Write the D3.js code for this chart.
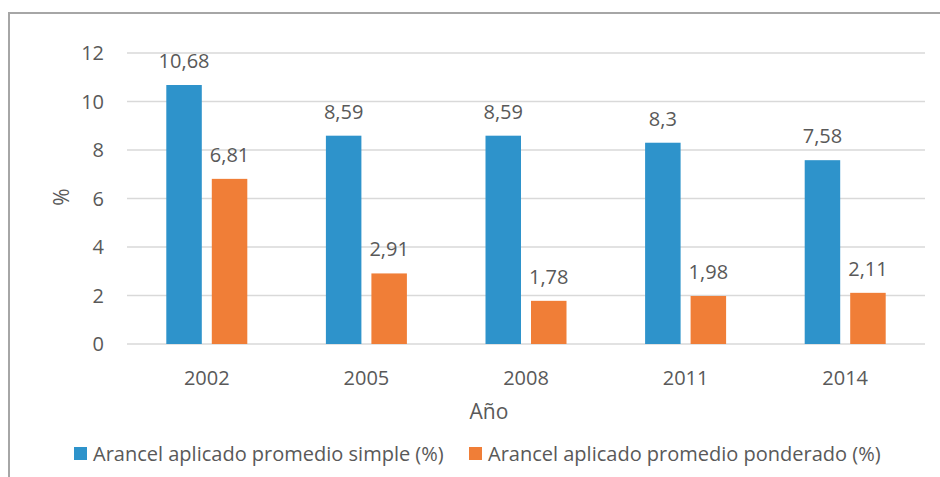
<!DOCTYPE html>
<html>
<head>
<meta charset="utf-8">
<script src="https://cdn.jsdelivr.net/npm/d3@7"></script>
<style>
  body { margin: 0; background: #fff; }
  svg text { font-family: "Open Sans", sans-serif; fill: #595959; }
</style>
</head>
<body>
<svg id="chart" width="940" height="477"></svg>
<script>
// data
var years = ["2002", "2005", "2008", "2011", "2014"];
var simple = [10.68, 8.59, 8.59, 8.3, 7.58];
var ponderado = [6.81, 2.91, 1.78, 1.98, 2.11];
var seriesNames = ["Arancel aplicado promedio simple (%)", "Arancel aplicado promedio ponderado (%)"];
var yTicks = [0, 2, 4, 6, 8, 10, 12];

var colors = ["#2E93CB", "#F07E37"];

var svg = d3.select("#chart");

// outer frame
svg.append("rect")
  .attr("x", 9).attr("y", 13)
  .attr("width", 960).attr("height", 500)
  .attr("fill", "none")
  .attr("stroke", "#a6a6a6")
  .attr("stroke-width", 2);

var plotLeft = 127, plotRight = 925, plotTop = 53, plotBottom = 344;

var x = d3.scaleBand().domain(years).range([plotLeft, plotRight]);
var y = d3.scaleLinear().domain([0, 12]).range([plotBottom, plotTop]);

// gridlines
svg.selectAll("grid-lines")
  .data(yTicks)
  .enter()
  .append("line")
    .attr("x1", plotLeft).attr("x2", plotRight)
    .attr("y1", function(d){ return y(d) })
    .attr("y2", function(d){ return y(d) })
    .attr("stroke", "#d9d9d9")
    .attr("stroke-width", 1.5);

// y tick labels
svg.selectAll("y-labels")
  .data(yTicks)
  .enter()
  .append("text")
    .attr("x", 104)
    .attr("y", function(d){ return y(d) })
    .attr("dy", "0.35em")
    .attr("text-anchor", "end")
    .style("font-size", "20px")
    .text(function(d){ return d });

// bars
var barW = 35.5, gap = 10;
var series = [simple, ponderado];
var fmt = function(v){ return String(v).replace(".", ",") };

series.forEach(function(vals, s) {
  var offset = s === 0 ? -gap / 2 - barW : gap / 2;
  var g = svg.append("g");
  g.selectAll("rect")
    .data(vals)
    .enter()
    .append("rect")
      .attr("x", function(d, i){ return x(years[i]) + x.bandwidth() / 2 + offset })
      .attr("y", function(d){ return y(d) })
      .attr("width", barW)
      .attr("height", function(d){ return plotBottom - y(d) })
      .attr("fill", colors[s]);
  g.selectAll("text")
    .data(vals)
    .enter()
    .append("text")
      .attr("x", function(d, i){ return x(years[i]) + x.bandwidth() / 2 + offset + barW / 2 })
      .attr("y", function(d){ return y(d) - 17 })
      .attr("text-anchor", "middle")
      .style("font-size", "20px")
      .text(function(d){ return fmt(d) });
});

// x tick labels
svg.selectAll("x-labels")
  .data(years)
  .enter()
  .append("text")
    .attr("x", function(d){ return x(d) + x.bandwidth() / 2 })
    .attr("y", 378)
    .attr("dy", "0.35em")
    .attr("text-anchor", "middle")
    .style("font-size", "20px")
    .text(function(d){ return d });

// axis titles
svg.append("text")
  .attr("x", 489).attr("y", 412)
  .attr("dy", "0.35em")
  .attr("text-anchor", "middle")
  .style("font-size", "21px")
  .text("Año");

svg.append("text")
  .attr("transform", "translate(62,197) rotate(-90)")
  .attr("dy", "0.35em")
  .attr("text-anchor", "middle")
  .style("font-size", "21px")
  .text("%");

// legend
var legendX = [74, 469];
seriesNames.forEach(function(name, s) {
  svg.append("rect")
    .attr("x", legendX[s]).attr("y", 447)
    .attr("width", 13).attr("height", 13)
    .attr("fill", colors[s]);
  svg.append("text")
    .attr("x", legendX[s] + 19).attr("y", 453.5)
    .attr("dy", "0.35em")
    .style("font-size", "20px")
    .text(name);
});
</script>
</body>
</html>
